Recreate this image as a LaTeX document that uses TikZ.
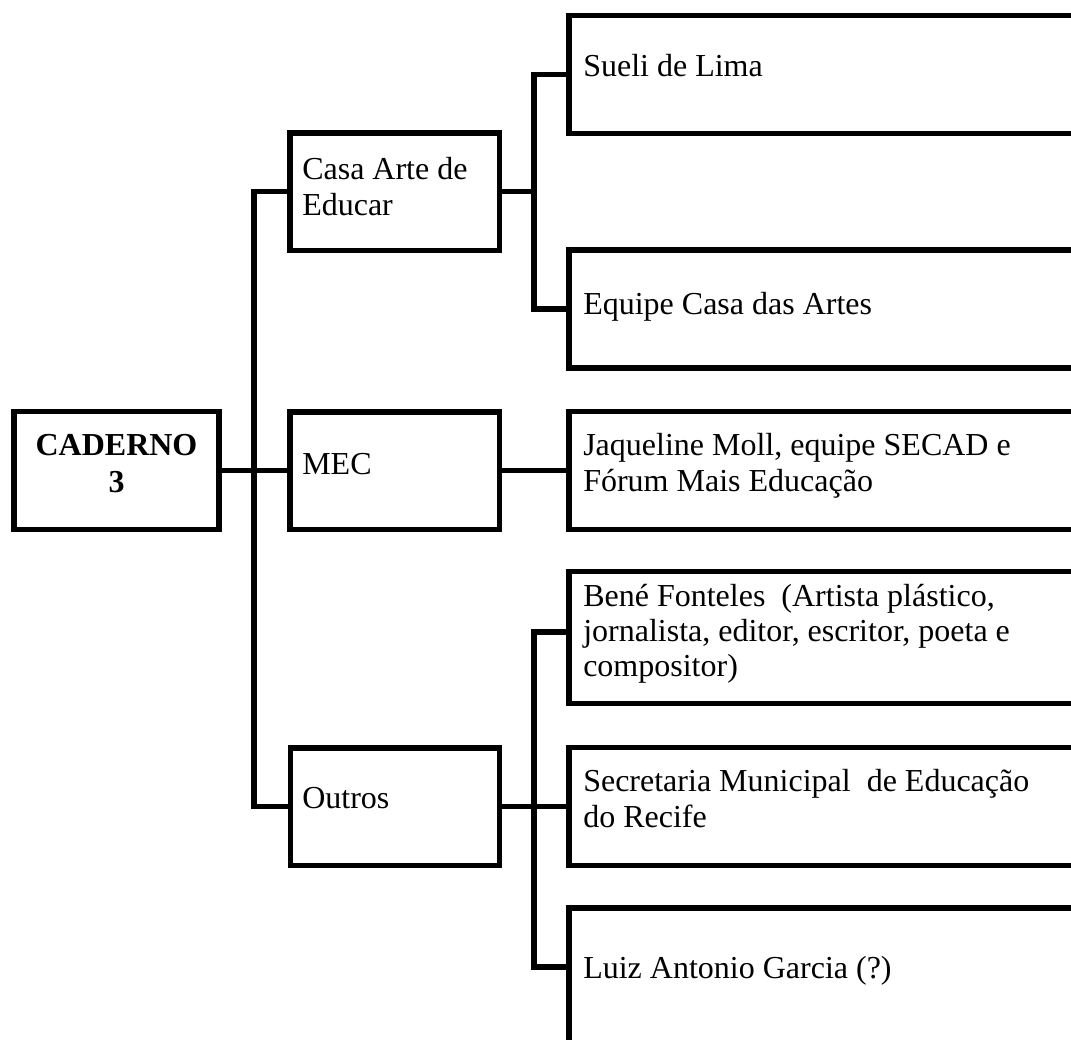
\documentclass[tikz,border=0pt]{standalone}
\usepackage{fontspec}
\setmainfont{Liberation Serif}
\begin{document}
\begin{tikzpicture}[x=0.75pt,y=-0.75pt,
  box/.style={draw, line width=4.1pt, inner sep=0pt, outer sep=0pt, rectangle},
  midbox/.style={box, minimum width=157.1pt, minimum height=88.1pt},
  rbox/.style={box, minimum width=405.75pt, minimum height=88.5pt},
  conn/.style={line width=4.1pt},
  txt/.style={inner sep=0pt, anchor=base west, font=\fontsize{24}{27}\selectfont}]
\useasboundingbox (0,0) rectangle (1071,1039);
\clip (0,0) rectangle (1071,1039);

% boxes
\node[box, minimum width=153.75pt, minimum height=88.5pt] (cad) at (116.5,470.5) {};
\node[midbox] (casa) at (394.75,191.75) {};
\node[midbox] (mec) at (394.75,470.5) {};
\node[midbox] (outros) at (395,806.5) {};
\node[rbox] (sueli) at (839.5,74.25) {};
\node[rbox] (equipe) at (839.5,309) {};
\node[rbox] (jaq) at (839.5,470.5) {};
\node[rbox, minimum height=99pt] (bene) at (839.5,637.5) {};
\node[rbox] (sec) at (839.5,806.5) {};
\node[rbox, minimum height=151.5pt] (luiz) at (839.5,1009) {};

% texts
\node[txt, anchor=base, font=\bfseries\fontsize{24}{27.5}\selectfont] (cadt) at (116.5,455.5)
  {\begin{tabular}[t]{@{}c@{}}CADERNO\\3\end{tabular}};
\node[txt] (casat) at (302,179) {\begin{tabular}[t]{@{}l@{}}Casa Arte de\\Educar\end{tabular}};
\node[txt] (mect) at (302,474) {MEC};
\node[txt] (outrost) at (302,808) {Outros};
\node[txt] (suelit) at (583,76) {Sueli de Lima};
\node[txt] (equipet) at (583,314) {Equipe Casa das Artes};
\node[txt] (jaqt) at (583,455) {\begin{tabular}[t]{@{}l@{}}Jaqueline Moll, equipe SECAD e\\Fórum Mais Educação\end{tabular}};
\node[txt, font=\fontsize{24}{26.25}\selectfont] (benet) at (583,606) {\begin{tabular}[t]{@{}l@{}}Bené Fonteles\ \ (Artista plástico,\\jornalista, editor, escritor, poeta e\\compositor)\end{tabular}};
\node[txt] (sect) at (583,791) {\begin{tabular}[t]{@{}l@{}}Secretaria Municipal\ \ de Educação\\do Recife\end{tabular}};
\node[txt] (luizt) at (583,978) {Luiz Antonio Garcia (?)};

% connectors
\coordinate (benein) at (569,632);
\coordinate (luizin) at (569,967);
\draw[conn] (casa.west) -- ++(-36,0) |- (outros.west);
\draw[conn] (cad.east) -- (mec.west);
\draw[conn] (mec.east) -- (jaq.west);
\draw[conn] (casa.east) -- ++(34.5,0);
\draw[conn] (sueli.west) -- ++(-35,0) |- (equipe.west);
\draw[conn] (outros.east) -- (sec.west);
\draw[conn] (benein) -- ++(-35,0) |- (luizin);
\end{tikzpicture}
\end{document}
